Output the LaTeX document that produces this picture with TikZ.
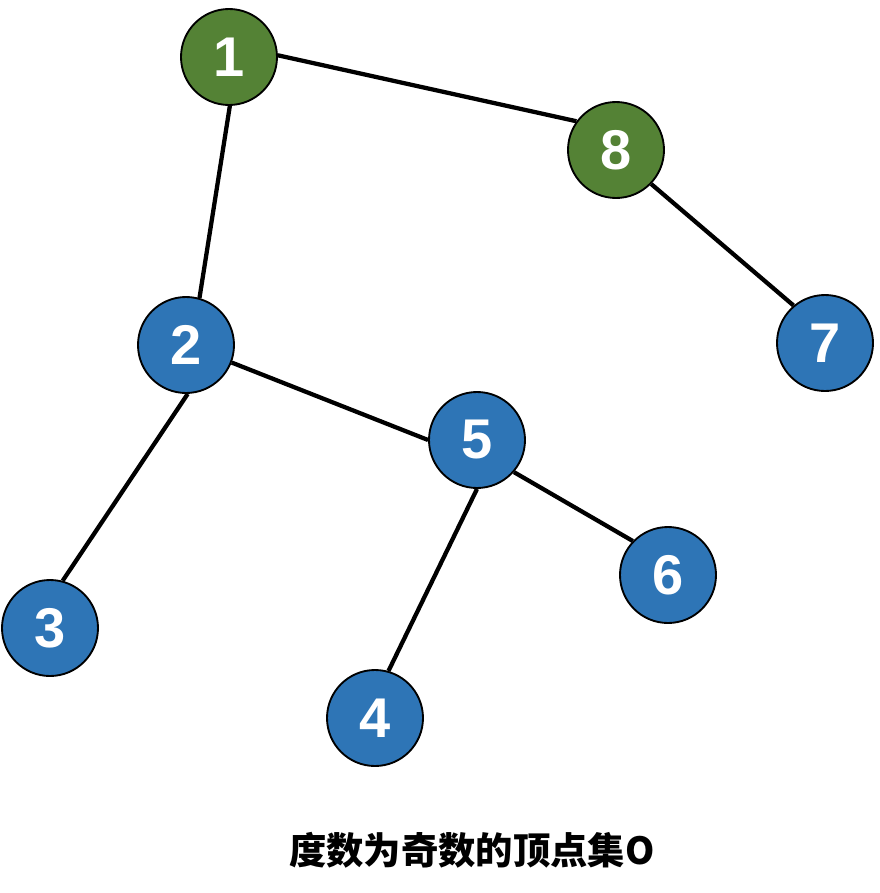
\documentclass[tikz,border=0pt]{standalone}
\usepackage{fontspec}
\setmainfont{Liberation Sans}
\newfontfamily\cjk{Noto Sans CJK SC}
\usepackage{tikz}
\definecolor{oddgreen}{HTML}{548235}
\definecolor{evenblue}{HTML}{2E75B6}

\begin{document}
\begin{tikzpicture}[x=.75pt,y=-.75pt,
  vtx/.style={circle,draw=black,line width=1.4pt,minimum size=72pt,inner sep=0pt,
              text=white,font=\fontsize{42}{42}\selectfont\bfseries},
  vodd/.style={vtx,fill=oddgreen},
  vblue/.style={vtx,fill=evenblue},
  edge/.style={line width=3.2pt}]
 \useasboundingbox (0,0) rectangle (880,893);
 % vertices
 \node[vodd]  (n1) at (229,57)  {1};
 \node[vodd]  (n8) at (616,150) {8};
 \node[vblue] (n2) at (186,345) {2};
 \node[vblue] (n7) at (825,343) {7};
 \node[vblue] (n5) at (477,440) {5};
 \node[vblue] (n6) at (668,575) {6};
 \node[vblue] (n3) at (50,628)  {3};
 \node[vblue] (n4) at (375,718) {4};
 % edges
 \draw[edge] (n1.2)   -- (n8.144);
 \draw[edge] (n1.-89) -- (n2.74);
 \draw[edge] (n8.-44) -- (n7.130);
 \draw[edge] (n2.-21) -- (n5.180);
 \draw[edge] (n2.-88) -- (n3.75);
 \draw[edge] (n5.-90) -- (n4.74);
 \draw[edge] (n5.-41) -- (n6.136);
 \node[font=\cjk\bfseries\fontsize{28}{28}\selectfont] (cap) at (472,850)
      {度数为奇数的顶点集O};
\end{tikzpicture}
\end{document}
